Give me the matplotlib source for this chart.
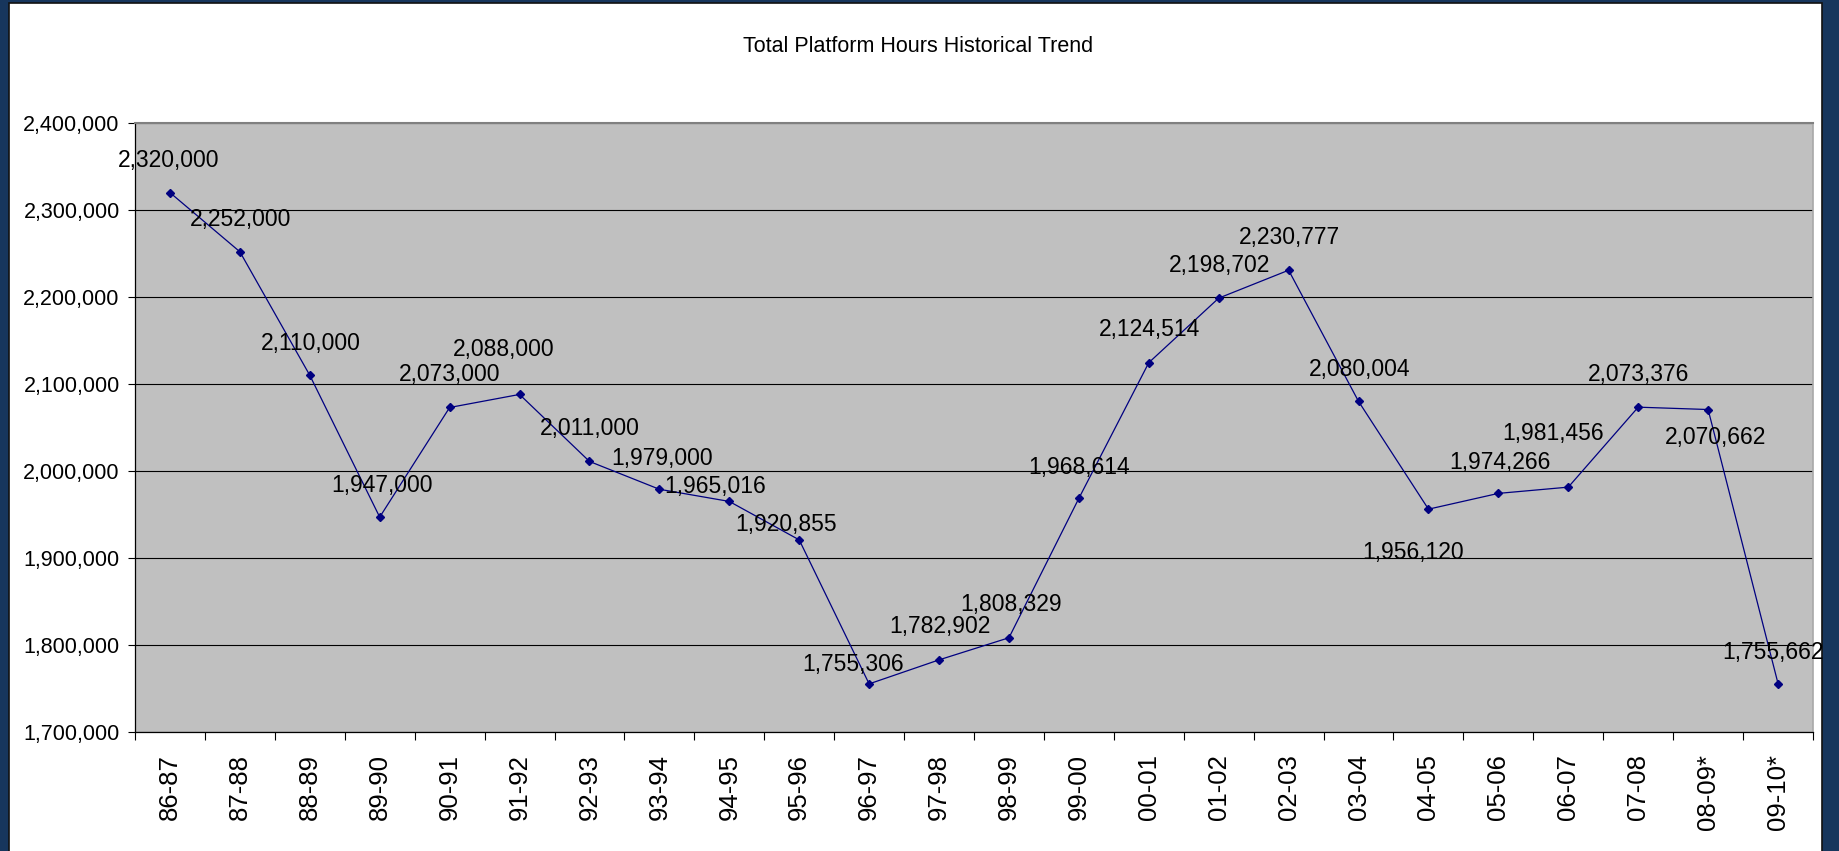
import matplotlib
matplotlib.use("Agg")
import matplotlib.pyplot as plt
from matplotlib.patches import Rectangle
from matplotlib.ticker import FuncFormatter, FixedLocator

plt.rcParams['font.family'] = ['Liberation Sans', 'DejaVu Sans']

# Fiscal years and total platform hours
years = ["86-87", "87-88", "88-89", "89-90", "90-91", "91-92", "92-93", "93-94",
         "94-95", "95-96", "96-97", "97-98", "98-99", "99-00", "00-01", "01-02",
         "02-03", "03-04", "04-05", "05-06", "06-07", "07-08", "08-09*", "09-10*"]
hours = [2320000, 2252000, 2110000, 1947000, 2073000, 2088000, 2011000, 1979000,
         1965016, 1920855, 1755306, 1782902, 1808329, 1968614, 2124514, 2198702,
         2230777, 2080004, 1956120, 1974266, 1981456, 2073376, 2070662, 1755662]

y_ticks = [1700000, 1800000, 1900000, 2000000, 2100000, 2200000, 2300000, 2400000]
title = "Total Platform Hours Historical Trend"

# Data label placement (offset of label centre from the point, in pixels)
label_offsets = [(-1, 32), (1, 32), (1, 32), (2, 32), (0, 33), (-16, 45), (0, 33), (3, 31),
                 (-14, 15), (-13, 15), (-16, 19), (1, 33), (2, 33), (0, 31), (1, 33), (1, 33),
                 (1, 33), (1, 32), (-15, -43), (2, 31), (-15, 54), (0, 33), (7, -28), (-5, 31)]

W, H, DPI = 1839, 851, 100
NAVY = "#17365D"
fig = plt.figure(figsize=(W / DPI, H / DPI), dpi=DPI, facecolor=NAVY)

# White chart sheet inside the dark frame
fig.patches.append(Rectangle((8.5 / W, -0.01), (1821.5 - 8.5) / W, (848 / H) + 0.01,
                             transform=fig.transFigure, facecolor="white",
                             edgecolor="#111111", linewidth=1.2, zorder=-5))

left, right, top, bottom = 135, 1813, 123, 732
ax = fig.add_axes([left / W, (H - bottom) / H, (right - left) / W, (bottom - top) / H])
ax.set_zorder(1)
ax.set_facecolor("#C0C0C0")

x = list(range(len(years)))
ax.plot(x, hours, color="#000080", linewidth=0.9, marker="D", markersize=4,
        markerfacecolor="#000080", markeredgecolor="#000080", zorder=3)

FS = 16.5
px = 72.0 / DPI
for xi, val, (dx, dy) in zip(x, hours, label_offsets):
    ax.annotate(f"{val:,}", (xi, val), xytext=(dx * px, dy * px), textcoords="offset points",
                ha="center", va="center", fontsize=FS, color="black", zorder=4)

ax.set_xlim(-0.5, len(years) - 0.5)
ax.set_ylim(1700000, 2400000)

ax.yaxis.set_major_locator(FixedLocator(y_ticks))
ax.yaxis.set_major_formatter(FuncFormatter(lambda v, p: f"{int(v):,}"))
ax.grid(axis="y", color="black", linewidth=0.8, zorder=1)
ax.set_axisbelow(True)

ax.set_xticks(x)
ax.set_xticklabels(years, rotation=90, fontsize=18.5)
ax.set_xticks([i - 0.5 for i in range(len(years) + 1)], minor=True)
ax.tick_params(axis="x", which="major", length=0, pad=16)
ax.tick_params(axis="x", which="minor", length=6, width=0.8, color="black", direction="out")
ax.tick_params(axis="y", which="major", length=5, width=0.8, color="black", direction="out",
               labelsize=15.5, pad=6)

for s in ("left", "bottom"):
    ax.spines[s].set_color("black")
    ax.spines[s].set_linewidth(0.9)
ax.spines["top"].set_color("#808080")
ax.spines["top"].set_linewidth(1.5)
ax.spines["right"].set_color("#A8A8A8")
ax.spines["right"].set_linewidth(1.2)

fig.text(918 / W, 1 - 47 / H, title, ha="center", va="center", fontsize=15.5, color="black")

fig.savefig("out.png", dpi=DPI, facecolor=NAVY)
